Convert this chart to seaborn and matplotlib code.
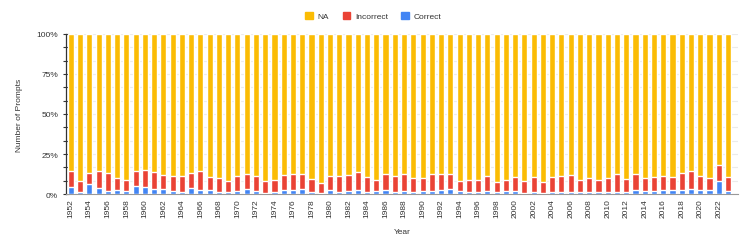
import pandas as pd
import numpy as np
import matplotlib.pyplot as plt
import seaborn as sns
from matplotlib.ticker import PercentFormatter, AutoMinorLocator, MultipleLocator
from matplotlib.patches import Patch

years = list(range(1952, 2024))

# share of prompts (%) per year
correct = [4.2, 1.0, 6.2, 3.5, 2.0, 2.7, 1.7, 4.8, 4.2, 2.9,
           3.1, 2.0, 1.0, 3.5, 2.7, 2.7, 1.0, 1.0, 1.9, 3.1,
           1.7, 0.8, 1.2, 2.5, 2.7, 3.3, 1.2, 0.8, 2.5, 1.0,
           1.9, 2.5, 1.5, 1.9, 2.5, 1.5, 1.7, 1.2, 1.7, 1.7,
           2.5, 3.1, 1.7, 1.2, 1.0, 2.0, 1.2, 1.7, 1.9, 0.8,
           1.5, 0.9, 1.3, 1.0, 1.5, 1.0, 1.5, 1.5, 1.5, 1.5,
           1.5, 2.5, 1.9, 1.9, 2.5, 2.5, 2.5, 3.3, 2.5, 2.5,
           8.3, 1.9]
incorrect_top = [14.6, 8.1, 13.1, 14.6, 13.1, 10.2, 9.0, 14.6, 15.0, 13.7,
                 11.9, 11.0, 11.0, 13.1, 14.4, 10.6, 10.0, 8.3, 11.0, 12.3,
                 11.0, 7.9, 9.0, 11.7, 12.3, 12.3, 9.4, 6.7, 11.2, 11.0,
                 11.9, 13.5, 10.6, 9.0, 12.7, 11.0, 12.7, 10.2, 9.8, 12.3,
                 12.3, 12.3, 8.3, 8.7, 8.7, 11.2, 7.7, 9.0, 10.8, 8.1,
                 10.8, 7.7, 10.8, 11.4, 11.7, 8.7, 10.2, 8.7, 10.0, 12.5,
                 9.4, 12.5, 9.8, 10.8, 11.2, 10.8, 12.9, 14.6, 11.0, 10.0,
                 18.3, 10.8]
incorrect = [round(t - c, 1) for t, c in zip(incorrect_top, correct)]
na = [round(100 - t, 1) for t in incorrect_top]

col_na = '#FBBC04'
col_inc = '#EA4335'
col_cor = '#4285F4'

df = pd.DataFrame({'Year': [str(y) for y in years],
                   'Correct': np.array(correct) / 100,
                   'Incorrect': np.array(incorrect) / 100,
                   'NA': np.array(na) / 100})
df['cum_inc'] = df['Correct'] + df['Incorrect']
df['cum_na'] = df['cum_inc'] + df['NA']

sns.set_style('white')
plt.rcParams['font.family'] = ['Liberation Sans', 'DejaVu Sans']

fig, ax = plt.subplots(figsize=(7.47, 2.53), dpi=100)
fig.subplots_adjust(left=0.088, right=0.988, top=0.862, bottom=0.229)

w = 0.66
sns.barplot(data=df, x='Year', y='cum_na', color=col_na, width=w, saturation=1, ax=ax, zorder=2)
sns.barplot(data=df, x='Year', y='cum_inc', color=col_inc, width=w, saturation=1, ax=ax, zorder=3)
sns.barplot(data=df, x='Year', y='Correct', color=col_cor, width=w, saturation=1, ax=ax, zorder=4)

ax.set_ylim(0, 1)
ax.set_xlim(-0.55, 72.08)
ax.yaxis.set_major_locator(MultipleLocator(0.25))
ax.yaxis.set_minor_locator(AutoMinorLocator(3))
ax.yaxis.set_major_formatter(PercentFormatter(1.0, decimals=0))
ax.grid(axis='y', which='both', color='#ebebeb', linewidth=0.8, zorder=0)
ax.set_axisbelow(True)

ticks = list(range(0, len(years), 2))
ax.set_xticks(ticks)
ax.set_xticklabels([str(years[i]) for i in ticks], rotation=90, fontsize=6, color='#333333')
ax.tick_params(axis='y', which='both', direction='inout', length=4, width=0.8,
               color='#333333', labelsize=6, labelcolor='#333333', left=True)
ax.tick_params(axis='x', length=0, pad=3)

for s in ['top', 'right']:
    ax.spines[s].set_visible(False)
ax.spines['left'].set_color('#333333')
ax.spines['left'].set_linewidth(0.9)
ax.spines['bottom'].set_color('#999999')
ax.spines['bottom'].set_linewidth(0.8)

ax.set_xlabel('Year', fontsize=6, color='#333333', labelpad=8)
ax.set_ylabel('Number of Prompts', fontsize=6, color='#333333', labelpad=10)

handles = [Patch(color=col_na, label='NA'),
           Patch(color=col_inc, label='Incorrect'),
           Patch(color=col_cor, label='Correct')]
fig.legend(handles=handles, loc='center', bbox_to_anchor=(0.5, 0.933), ncol=3,
           frameon=False, fontsize=6, handlelength=0.9, handleheight=0.9,
           handletextpad=0.6, columnspacing=1.6, labelcolor='#333333')

fig.savefig('out.png', dpi=100)
